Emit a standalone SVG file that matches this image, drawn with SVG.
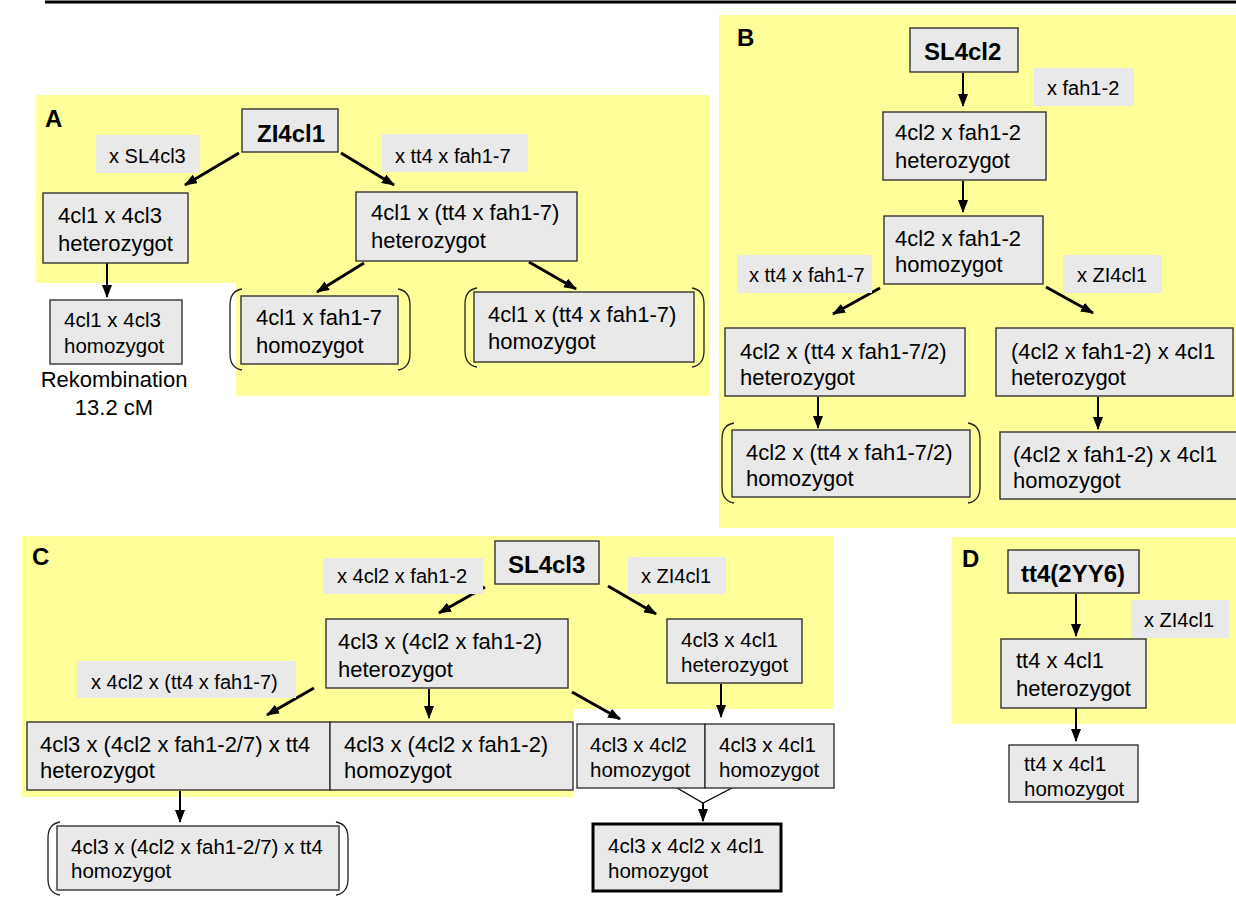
<svg xmlns="http://www.w3.org/2000/svg" width="1236" height="909" viewBox="0 0 1236 909">
<style>
text{font-family:"Liberation Sans",Arial,sans-serif;fill:#000}
.y{fill:#ffff99}
.n{fill:#e9e9e9;stroke:#333;stroke-width:1.4}
.nt{fill:#e9e9e9;stroke:#000;stroke-width:3}
.l{fill:#e9e9e9}
.t22{font-size:22px}
.t20{font-size:20.5px}
.lb{font-size:20px}
.b{font-size:24px;font-weight:bold}
.p{font-size:24px;font-weight:bold}
.a{stroke:#000;stroke-width:3;fill:none;marker-end:url(#ah)}
.v{stroke:#000;stroke-width:2;fill:none;marker-end:url(#ah)}
.th{stroke:#000;stroke-width:1.3;fill:none}
.br{stroke:#222;stroke-width:1.3;fill:none}
</style>
<defs>
<marker id="ah" markerWidth="13" markerHeight="10" refX="12" refY="5" orient="auto" markerUnits="userSpaceOnUse"><path d="M0,0 L13,5 L0,10 z" fill="#000"/></marker>
</defs>
<rect width="1236" height="909" fill="#fff"/>
<line x1="45" y1="2" x2="1236" y2="2" stroke="#000" stroke-width="3"/>

<g id="backgrounds">
<path class="y" d="M36,95 H709 V396 H236 V283 H36 Z"/>
<rect class="y" x="719" y="15" width="517" height="513"/>
<path class="y" d="M22,536 H833 V709 H573 V797 H22 Z"/>
<rect class="y" x="952" y="537" width="284" height="187"/>
</g>

<g id="panel-labels">
<text class="p" x="45" y="127">A</text>
<text class="p" x="737" y="46">B</text>
<text class="p" x="32" y="565">C</text>
<text class="p" x="962" y="567">D</text>
</g>

<g id="brackets">
<path class="br" d="M242,289 Q230,291 230,305 L230,354 Q230,368 242,370"/>
<path class="br" d="M398,289 Q410,291 410,305 L410,354 Q410,368 398,370"/>
<path class="br" d="M477,288 Q465,290 465,304 L465,351 Q465,365 477,367"/>
<path class="br" d="M692,288 Q704,290 704,304 L704,351 Q704,365 692,367"/>
<path class="br" d="M734,423 Q722,425 722,439 L722,487 Q722,501 734,503"/>
<path class="br" d="M968,423 Q980,425 980,439 L980,487 Q980,501 968,503"/>
<path class="br" d="M60,822 Q48,824 48,838 L48,879 Q48,893 60,895"/>
<path class="br" d="M336,822 Q348,824 348,838 L348,879 Q348,893 336,895"/>
</g>

<g id="connectors">
<path class="a" d="M239,153 L185,185"/>
<path class="a" d="M341,153 L394,185"/>
<path class="v" d="M107,263 L107,297"/>
<path class="a" d="M364,263 L317,292"/>
<path class="a" d="M529,262 L576,289"/>
<path class="v" d="M963,73 L963,106"/>
<path class="v" d="M963,181 L963,212"/>
<path class="a" d="M880,288 L833,314"/>
<path class="a" d="M1046,287 L1093,313"/>
<path class="v" d="M818,397 L818,428"/>
<path class="v" d="M1098,397 L1098,429"/>
<path class="a" d="M485,587 L439,613"/>
<path class="a" d="M608,586 L656,614"/>
<path class="a" d="M314,688 L267,715"/>
<path class="v" d="M429,689 L429,718"/>
<path class="a" d="M572,692 L620,719"/>
<path class="v" d="M721,684 L721,717"/>
<path class="v" d="M180,791 L180,822"/>
<path class="th" d="M677,788 L703,803 L732,788"/>
<path class="v" d="M703,803 L703,821"/>
<path class="v" d="M1076,594 L1076,636"/>
<path class="v" d="M1076,708 L1076,741"/>
</g>

<g id="A-root"><rect class="n" x="242" y="109" width="96" height="43"/><text class="b" x="257" y="142">ZI4cl1</text></g>
<g id="A-lbl1"><rect class="l" x="96" y="135" width="104" height="38"/><text class="lb" x="109" y="163">x SL4cl3</text></g>
<g id="A-lbl2"><rect class="l" x="382" y="134" width="146" height="38"/><text class="lb" x="395" y="163">x tt4 x fah1-7</text></g>
<g id="A-het1"><rect class="n" x="43" y="193" width="145" height="70"/><text class="t22" x="58" y="223">4cl1 x 4cl3</text><text class="t22" x="58" y="251">heterozygot</text></g>
<g id="A-hom1"><rect class="n" x="50" y="300" width="132" height="64"/><text class="t20" x="64" y="327">4cl1 x 4cl3</text><text class="t20" x="64" y="353">homozygot</text></g>
<g id="A-rek"><text class="t22" x="114" y="387" text-anchor="middle">Rekombination</text><text class="t22" x="114" y="415" text-anchor="middle">13.2 cM</text></g>
<g id="A-het2"><rect class="n" x="356" y="192" width="221" height="69"/><text class="t22" x="371" y="220">4cl1 x (tt4 x fah1-7)</text><text class="t22" x="371" y="248">heterozygot</text></g>
<g id="A-hom2"><rect class="n" x="241" y="296" width="157" height="68"/><text class="t22" x="256" y="325">4cl1 x fah1-7</text><text class="t22" x="256" y="353">homozygot</text></g>
<g id="A-hom3"><rect class="n" x="474" y="292" width="220" height="70"/><text class="t22" x="488" y="322">4cl1 x (tt4 x fah1-7)</text><text class="t22" x="488" y="349">homozygot</text></g>

<g id="B-root"><rect class="n" x="910" y="28" width="108" height="44"/><text class="b" x="924" y="60">SL4cl2</text></g>
<g id="B-lbl1"><rect class="l" x="1034" y="68" width="100" height="38"/><text class="lb" x="1047" y="95">x fah1-2</text></g>
<g id="B-het1"><rect class="n" x="883" y="112" width="163" height="68"/><text class="t22" x="895" y="140">4cl2 x fah1-2</text><text class="t22" x="895" y="168">heterozygot</text></g>
<g id="B-hom1"><rect class="n" x="884" y="216" width="159" height="68"/><text class="t22" x="895" y="246">4cl2 x fah1-2</text><text class="t22" x="895" y="272">homozygot</text></g>
<g id="B-lbl2"><rect class="l" x="737" y="255" width="135" height="38"/><text class="lb" x="749" y="282">x tt4 x fah1-7</text></g>
<g id="B-lbl3"><rect class="l" x="1063" y="255" width="99" height="38"/><text class="lb" x="1077" y="282">x ZI4cl1</text></g>
<g id="B-het2"><rect class="n" x="725" y="328" width="240" height="68"/><text class="t22" x="740" y="359">4cl2 x (tt4 x fah1-7/2)</text><text class="t22" x="740" y="385">heterozygot</text></g>
<g id="B-het3"><rect class="n" x="996" y="328" width="237" height="68"/><text class="t22" x="1011" y="359">(4cl2 x fah1-2) x 4cl1</text><text class="t22" x="1011" y="385">heterozygot</text></g>
<g id="B-hom2"><rect class="n" x="732" y="430" width="238" height="67"/><text class="t22" x="746" y="460">4cl2 x (tt4 x fah1-7/2)</text><text class="t22" x="746" y="486">homozygot</text></g>
<g id="B-hom3"><rect class="n" x="1000" y="432" width="240" height="67"/><text class="t22" x="1013" y="462">(4cl2 x fah1-2) x 4cl1</text><text class="t22" x="1013" y="488">homozygot</text></g>

<g id="C-root"><rect class="n" x="495" y="541" width="104" height="43"/><text class="b" x="508" y="573">SL4cl3</text></g>
<g id="C-lbl1"><rect class="l" x="323" y="558" width="160" height="36"/><text class="lb" x="337" y="583">x 4cl2 x fah1-2</text></g>
<g id="C-lbl2"><rect class="l" x="628" y="557" width="98" height="37"/><text class="lb" x="641" y="583">x ZI4cl1</text></g>
<g id="C-het1"><rect class="n" x="326" y="619" width="242" height="69"/><text class="t22" x="338" y="649">4cl3 x (4cl2 x fah1-2)</text><text class="t22" x="338" y="677">heterozygot</text></g>
<g id="C-het2"><rect class="n" x="667" y="619" width="135" height="64"/><text class="t20" x="681" y="647">4cl3 x 4cl1</text><text class="t20" x="681" y="672">heterozygot</text></g>
<g id="C-lbl3"><rect class="l" x="77" y="661" width="219" height="37"/><text class="lb" x="91" y="689">x 4cl2 x (tt4 x fah1-7)</text></g>
<g id="C-het3"><rect class="n" x="27" y="722" width="303" height="68"/><text class="t22" x="40" y="752">4cl3 x (4cl2 x fah1-2/7) x tt4</text><text class="t22" x="40" y="778">heterozygot</text></g>
<g id="C-hom1"><rect class="n" x="330" y="722" width="243" height="68"/><text class="t22" x="344" y="752">4cl3 x (4cl2 x fah1-2)</text><text class="t22" x="344" y="778">homozygot</text></g>
<g id="C-hom2"><rect class="n" x="577" y="724" width="128" height="64"/><text class="t20" x="590" y="752">4cl3 x 4cl2</text><text class="t20" x="590" y="777">homozygot</text></g>
<g id="C-hom3"><rect class="n" x="705" y="724" width="129" height="64"/><text class="t20" x="719" y="752">4cl3 x 4cl1</text><text class="t20" x="719" y="777">homozygot</text></g>
<g id="C-hom4"><rect class="nt" x="593" y="824" width="188" height="67"/><text class="t20" x="608" y="853">4cl3 x 4cl2 x 4cl1</text><text class="t20" x="608" y="878">homozygot</text></g>
<g id="C-hom5"><rect class="n" x="57" y="826" width="282" height="64"/><text class="t20" x="71" y="854">4cl3 x (4cl2 x fah1-2/7) x tt4</text><text class="t20" x="71" y="878">homozygot</text></g>

<g id="D-root"><rect class="n" x="1008" y="550" width="131" height="43"/><text class="b" x="1021" y="582">tt4(2YY6)</text></g>
<g id="D-lbl1"><rect class="l" x="1131" y="600" width="98" height="38"/><text class="lb" x="1144" y="627">x ZI4cl1</text></g>
<g id="D-het1"><rect class="n" x="1001" y="639" width="145" height="69"/><text class="t22" x="1016" y="668">tt4 x 4cl1</text><text class="t22" x="1016" y="696">heterozygot</text></g>
<g id="D-hom1"><rect class="n" x="1009" y="745" width="129" height="57"/><text class="t20" x="1024" y="771">tt4 x 4cl1</text><text class="t20" x="1024" y="796">homozygot</text></g>
</svg>
